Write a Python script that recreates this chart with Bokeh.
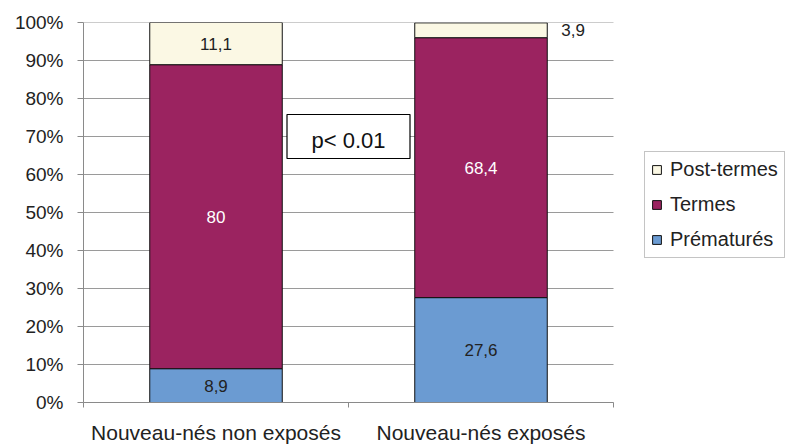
from bokeh.plotting import figure
from bokeh.models import ColumnDataSource, FixedTicker, Legend, LegendItem
from bokeh.core.properties import value
from bokeh.embed import file_html
from bokeh.resources import INLINE

# ---- data ----
categories = ["Nouveau-nés non exposés", "Nouveau-nés exposés"]
prematures = [8.9, 27.6]
termes = [80.0, 68.4]
post_termes = [11.1, 3.9]
series_names = ["Prématurés", "Termes", "Post-termes"]
y_ticks = [0, 10, 20, 30, 40, 50, 60, 70, 80, 90, 100]
y_tick_labels = ["0%", "10%", "20%", "30%", "40%", "50%", "60%", "70%", "80%", "90%", "100%"]
label_texts = [["8,9", "27,6"], ["80", "68,4"], ["11,1", "3,9"]]
pvalue_text = "p< 0.01"
pvalue_y = 70

# ---- styles / layout ----
FONT = "Liberation Sans"
colors = ["#6b9bd2", "#9b2360", "#fbf8e4"]
label_colors = ["#222222", "#ffffff", "#222222"]
BAR_W = 0.5
W, H = 790, 446
LEFT, TOP, BOTTOM = 83, 22, 44
PLOT_RIGHT = 613  # pixel where the category axis ends

n = len(categories)
xs = [i + 0.5 for i in range(n)]
series = [prematures, termes, post_termes]
x_end = n * (W - LEFT) / (PLOT_RIGHT - LEFT)

p = figure(width=W, height=H, x_range=(0, x_end), y_range=(0, 100),
           output_backend="svg", toolbar_location=None,
           min_border_left=LEFT, min_border_right=0, min_border_top=TOP,
           min_border_bottom=BOTTOM)
p.outline_line_color = None
p.xgrid.grid_line_color = None
p.ygrid.grid_line_color = None

# horizontal gridlines limited to the category area
p.segment(x0=[0] * len(y_ticks), x1=[n] * len(y_ticks), y0=y_ticks, y1=y_ticks,
          line_color="#9a9a9a", line_width=1, level="underlay")

renderers = []
bottoms = [0.0] * n
lab = dict(x=[], y=[], text=[], color=[], align=[], xoff=[])
for k, vals in enumerate(series):
    tops = [b + v for b, v in zip(bottoms, vals)]
    src = ColumnDataSource(dict(x=xs, bottom=bottoms, top=tops))
    r = p.vbar(x="x", width=BAR_W, bottom="bottom", top="top", source=src,
               fill_color=colors[k], line_color="#111111", line_width=1)
    renderers.append(r)
    for i in range(n):
        mid = (bottoms[i] + tops[i]) / 2
        lab["y"].append(mid)
        lab["text"].append(label_texts[k][i])
        if vals[i] < 5:
            lab["x"].append(xs[i] + BAR_W / 2)
            lab["align"].append("left")
            lab["xoff"].append(14)
            lab["color"].append("#222222")
        else:
            lab["x"].append(xs[i])
            lab["align"].append("center")
            lab["xoff"].append(0)
            lab["color"].append(label_colors[k])
    bottoms = tops

p.text(x="x", y="y", text="text", source=ColumnDataSource(lab), text_color="color",
       text_align="align", x_offset="xoff", text_baseline="middle",
       text_font=value(FONT), text_font_size="17px")

# p-value box
p.rect(x=[n / 2], y=[pvalue_y], width=123, height=44,
       width_units="screen", height_units="screen",
       fill_color="white", line_color="black", line_width=1.2)
p.text(x=[n / 2], y=[pvalue_y], text=[pvalue_text], text_align="center",
       text_baseline="middle", y_offset=4, text_font=value(FONT), text_font_size="22px",
       text_color="#111111")

# axes
p.yaxis.ticker = FixedTicker(ticks=y_ticks)
p.yaxis.major_label_overrides = {t: l for t, l in zip(y_ticks, y_tick_labels)}
p.yaxis.major_label_text_font = FONT
p.yaxis.major_label_text_font_size = "19px"
p.yaxis.major_label_text_color = "#222222"
p.yaxis.major_tick_out = 6
p.yaxis.major_tick_in = 0
p.yaxis.minor_tick_line_color = None
p.yaxis.axis_line_color = "#8a8a8a"
p.yaxis.major_tick_line_color = "#8a8a8a"
p.yaxis.major_label_standoff = 14

p.xaxis.bounds = (0, n)
p.xaxis.ticker = FixedTicker(ticks=xs, minor_ticks=list(range(n + 1)))
p.xaxis.major_label_overrides = {x: c for x, c in zip(xs, categories)}
p.xaxis.major_label_text_font = FONT
p.xaxis.major_label_text_font_size = "21px"
p.xaxis.major_label_text_color = "#222222"
p.xaxis.major_tick_out = 0
p.xaxis.major_tick_in = 0
p.xaxis.major_tick_line_color = None
p.xaxis.minor_tick_out = 5
p.xaxis.minor_tick_in = 0
p.xaxis.minor_tick_line_color = "#8a8a8a"
p.xaxis.axis_line_color = "#8a8a8a"
p.xaxis.major_label_standoff = 13

# legend
items = [LegendItem(label=series_names[k], renderers=[renderers[k]]) for k in (2, 1, 0)]
legend = Legend(items=items, location=(644 - LEFT, H - BOTTOM - 258), label_text_font=FONT,
                label_text_font_size="20px", label_text_color="#222222",
                glyph_width=11, glyph_height=11, label_height=23, spacing=12,
                padding=6, margin=0, label_standoff=8,
                border_line_color="#8a8a8a", border_line_width=1,
                background_fill_color="white", background_fill_alpha=1)
p.add_layout(legend, "center")

open("out.html", "w").write(file_html(p, INLINE))
